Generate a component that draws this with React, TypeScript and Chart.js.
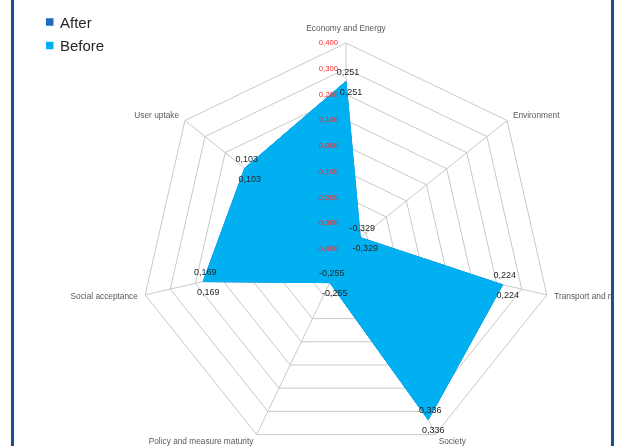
import { useEffect, useRef } from "react";
import { Chart, registerables } from "chart.js";

Chart.register(...registerables);

// ---- data ----
const categories = [
  "Economy and Energy",
  "Environment",
  "Transport and mobility",
  "Society",
  "Policy and measure maturity",
  "Social acceptance",
  "User uptake",
];
const seriesNames = ["After", "Before"];
const afterValues = [0.251, -0.329, 0.224, 0.336, -0.255, 0.169, 0.103];
const beforeValues = [0.251, -0.329, 0.224, 0.336, -0.255, 0.169, 0.103];
const axisMin = -0.4;
const axisMax = 0.4;
const axisStep = 0.1;

const FONT = "'Liberation Sans', Arial, sans-serif";
const COLOR_AFTER = "#1f6cc2";
const COLOR_BEFORE = "#00b0f0";
const FRAME = "#1c4f8f";

const fmt = (v: number) => {
  const n = Math.abs(v) < 1e-9 ? 0 : v;
  return n.toFixed(3).replace(".", ",");
};

const overlayPlugin = {
  id: "overlay",
  afterDatasetsDraw(chart: any) {
    const ctx: CanvasRenderingContext2D = chart.ctx;
    const scale = chart.scales.r;
    ctx.save();

    // tick labels (drawn over the fill, right of axis)
    ctx.font = `7.7px ${FONT}`;
    ctx.fillStyle = "#ff2a2a";
    ctx.textAlign = "right";
    ctx.textBaseline = "middle";
    scale.ticks.forEach((t: any) => {
      const p = scale.getPointPositionForValue(0, t.value);
      ctx.fillText(fmt(t.value), p.x - 8, p.y);
    });

    // point labels
    ctx.font = `8.3px ${FONT}`;
    ctx.fillStyle = "#595959";
    chart.data.labels.forEach((lab: string, i: number) => {
      const p = scale.getPointPosition(i, scale.drawingArea + 7.5);
      let deg = Math.round((scale.getIndexAngle(i) * 180) / Math.PI) % 360;
      if (deg < 0) deg += 360;
      let y = p.y;
      if (deg === 0 || deg === 180) {
        ctx.textAlign = "center";
        y += deg === 0 ? -7 : 7;
      } else if (deg < 180) ctx.textAlign = "left";
      else ctx.textAlign = "right";
      ctx.textBaseline = "middle";
      ctx.fillText(lab, p.x, y);
    });

    // data labels
    ctx.font = `9px ${FONT}`;
    ctx.fillStyle = "#262626";
    ctx.textAlign = "center";
    ctx.textBaseline = "middle";
    chart.data.datasets.forEach((ds: any, di: number) => {
      const meta = chart.getDatasetMeta(di);
      meta.data.forEach((el: any, i: number) => {
        const dx = di === 0 ? 2 : 5;
        const dy = di === 0 ? -9 : 11;
        ctx.fillText(fmt(ds.data[i]), el.x + dx, el.y + dy);
      });
    });

    // legend
    chart.data.datasets.forEach((ds: any, di: number) => {
      const cy = 22 + di * 23.5;
      ctx.fillStyle = ds.backgroundColor;
      ctx.fillRect(46, cy - 3.75, 7.5, 7.5);
      ctx.font = `15px ${FONT}`;
      ctx.fillStyle = "#262626";
      ctx.textAlign = "left";
      ctx.textBaseline = "middle";
      ctx.fillText(ds.label, 60, cy + 1.5);
    });

    ctx.restore();
  },
};

export default function App() {
  const ref = useRef<HTMLCanvasElement | null>(null);

  useEffect(() => {
    if (!ref.current) return;
    const chart = new Chart(ref.current, {
      type: "radar",
      data: {
        labels: categories,
        datasets: [
          {
            label: seriesNames[0],
            data: afterValues,
            backgroundColor: COLOR_AFTER,
            borderColor: COLOR_AFTER,
            borderWidth: 1,
            fill: "start",
            pointRadius: 0,
            order: 1,
          },
          {
            label: seriesNames[1],
            data: beforeValues,
            backgroundColor: COLOR_BEFORE,
            borderColor: COLOR_BEFORE,
            borderWidth: 1,
            fill: "start",
            pointRadius: 0,
            order: 0,
          },
        ],
      },
      options: {
        responsive: false,
        animation: false,
        layout: { padding: { left: 140, right: 67, top: 43, bottom: 0 } },
        plugins: {
          legend: { display: false },
          tooltip: { enabled: false },
        },
        scales: {
          r: {
            min: axisMin,
            max: axisMax,
            ticks: { display: false, stepSize: axisStep },
            pointLabels: { display: false },
            grid: { color: "#c8c8c8", lineWidth: 1, circular: false },
            angleLines: { color: "#c8c8c8", lineWidth: 1 },
          },
        },
      },
      plugins: [overlayPlugin],
    } as any);
    return () => chart.destroy();
  }, []);

  return (
    <div
      style={{
        position: "fixed",
        left: 0,
        top: 0,
        width: 619,
        height: 446,
        background: "#fff",
        overflow: "hidden",
      }}
    >
      <div
        style={{
          position: "absolute",
          left: 14,
          top: 0,
          width: 597,
          height: 446,
          overflow: "hidden",
        }}
      >
        <canvas
          ref={ref}
          width={619}
          height={455}
          style={{ position: "absolute", left: -14, top: 0, width: 619, height: 455 }}
        />
      </div>
      <div style={{ position: "absolute", left: 11, top: 0, width: 3, height: 446, background: FRAME }} />
      <div style={{ position: "absolute", left: 611, top: 0, width: 3, height: 446, background: FRAME }} />
    </div>
  );
}
